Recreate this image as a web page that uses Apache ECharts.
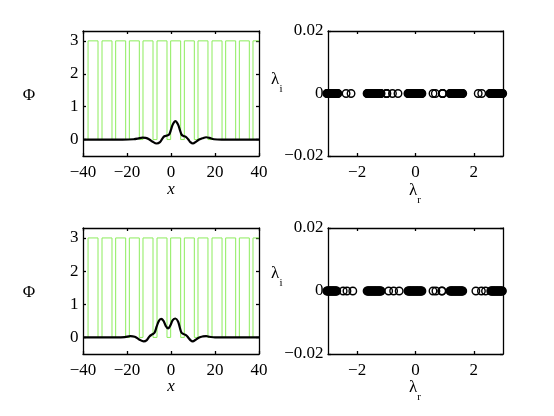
<!DOCTYPE html>
<html>
<head>
<meta charset="utf-8">
<script src="https://cdn.jsdelivr.net/npm/echarts@6/dist/echarts.min.js"></script>
<style>html,body{margin:0;padding:0;background:#fff}#c{width:554px;height:416px}</style>
</head>
<body>
<div id="c"></div>
<script>
// ---- data ----
const xTicksPhi = [-40, -20, 0, 20, 40];
const yTicksPhi = [0, 1, 2, 3];
const xTicksLam = [-2, 0, 2];
const yTicksLam = [-0.02, 0, 0.02];

// square-wave potential (0 / 3): rising and falling edges
const potRises = [-37.7, -31.36, -25.15, -18.94, -12.73, -6.36, -0.15, 6.06, 12.27, 18.64, 24.85, 31.06, 37.27];
const potFalls = [-33.18, -26.82, -20.6, -14.4, -8.18, -1.82, 4.39, 10.6, 16.8, 23.2, 29.4, 35.6];
const potHigh = 3;

// top profile
const phiTopX = [-40, -22, -17, -15, -13, -11.5, -10, -8.5, -6.5, -5, -4, -3, -1.8, -0.8, 0, 0.8, 2, 3.2, 4, 4.8, 5.6, 6.6, 7.8, 8.8, 10, 11.3, 12.8, 14.3, 16, 17.5, 19.5, 23, 40];
const phiTopY = [0, 0, 0.01, 0.03, 0.06, 0.05, 0.01, -0.06, -0.12, -0.08, 0.02, 0.1, 0.12, 0.16, 0.3, 0.46, 0.56, 0.46, 0.3, 0.15, 0.11, 0.09, 0.01, -0.08, -0.12, -0.07, 0.0, 0.04, 0.07, 0.05, 0.01, 0, 0];

// bottom profile
const phiBotX = [-40, -25, -21, -18.5, -16.5, -14.5, -12.4, -11, -9.8, -8.6, -7.5, -6.5, -5.5, -4.5, -3.4, -2.4, -1.3, -0.3, 0.8, 2, 3.2, 4, 4.8, 5.8, 6.8, 7.8, 8.8, 9.9, 11.2, 12.8, 14.5, 16, 17.5, 20, 40];
const phiBotY = [0, 0, 0.01, 0.04, 0.02, -0.06, -0.12, -0.08, 0.03, 0.09, 0.14, 0.33, 0.5, 0.56, 0.5, 0.35, 0.27, 0.36, 0.52, 0.57, 0.48, 0.3, 0.14, 0.1, 0.07, 0.0, -0.08, -0.12, -0.07, 0.0, 0.03, 0.04, 0.02, 0, 0];

// eigenvalues (real parts); imaginary parts are all 0
const lamTopR = [
  -3.04, -3.02, -3.0, -2.98, -2.96, -2.94, -2.92, -2.9, -2.88, -2.86, -2.84, -2.82, -2.8, -2.78, -2.76, -2.74, -2.72, -2.7, -2.68, -2.66,
  -2.38, -2.21,
  -1.66, -1.64, -1.62, -1.6, -1.58, -1.56, -1.54, -1.52, -1.5, -1.48, -1.46, -1.44, -1.42, -1.4, -1.38, -1.36, -1.34, -1.32, -1.3, -1.28, -1.26, -1.24, -1.22, -1.2, -1.18,
  -1.0, -0.99, -0.98, -0.79, -0.6,
  -0.26, -0.24, -0.22, -0.2, -0.18, -0.16, -0.14, -0.12, -0.1, -0.08, -0.06, -0.04, -0.02, 0, 0.02, 0.04, 0.06, 0.08, 0.1, 0.12, 0.14, 0.16, 0.18, 0.2, 0.22,
  0.6, 0.68, 0.92, 0.93, 0.94,
  1.18, 1.2, 1.22, 1.24, 1.26, 1.28, 1.3, 1.32, 1.34, 1.36, 1.38, 1.4, 1.42, 1.44, 1.46, 1.48, 1.5, 1.52, 1.54, 1.56, 1.58, 1.6, 1.62,
  2.15, 2.27,
  2.55, 2.57, 2.59, 2.61, 2.63, 2.65, 2.67, 2.69, 2.71, 2.73, 2.75, 2.77, 2.79, 2.81, 2.83, 2.85, 2.87, 2.89, 2.91, 2.93, 2.95, 2.97, 2.99];
const lamBotR = [
  -3.04, -3.02, -3.0, -2.98, -2.96, -2.94, -2.92, -2.9, -2.88, -2.86, -2.84, -2.82, -2.8, -2.78, -2.76, -2.74, -2.72, -2.7,
  -2.48, -2.35, -2.15,
  -1.66, -1.64, -1.62, -1.6, -1.58, -1.56, -1.54, -1.52, -1.5, -1.48, -1.46, -1.44, -1.42, -1.4, -1.38, -1.36, -1.34, -1.32, -1.3, -1.28, -1.26, -1.24, -1.22, -1.2, -1.18,
  -0.92, -0.75, -0.56,
  -0.26, -0.24, -0.22, -0.2, -0.18, -0.16, -0.14, -0.12, -0.1, -0.08, -0.06, -0.04, -0.02, 0, 0.02, 0.04, 0.06, 0.08, 0.1, 0.12, 0.14, 0.16, 0.18, 0.2, 0.22,
  0.6, 0.7, 0.9, 0.91,
  1.18, 1.2, 1.22, 1.24, 1.26, 1.28, 1.3, 1.32, 1.34, 1.36, 1.38, 1.4, 1.42, 1.44, 1.46, 1.48, 1.5, 1.52, 1.54, 1.56, 1.58, 1.6, 1.62,
  2.07, 2.26, 2.4,
  2.58, 2.6, 2.62, 2.64, 2.66, 2.68, 2.7, 2.72, 2.74, 2.76, 2.78, 2.8, 2.82, 2.84, 2.86, 2.88, 2.9, 2.92, 2.94, 2.96, 2.98];

// ---- build ----
const FONT = '"Liberation Serif", "Times New Roman", serif';
const FS = 17;
const minus = v => String(+(+v).toFixed(6)).replace('-', '\u2212');

function potData() {
  const pts = [[-40, 0]];
  for (let i = 0; i < potRises.length; i++) {
    pts.push([potRises[i], 0], [potRises[i], potHigh]);
    if (i < potFalls.length) pts.push([potFalls[i], potHigh], [potFalls[i], 0]);
    else pts.push([40, potHigh]);
  }
  return pts;
}
const zip = (a, b) => a.map((v, i) => [v, b[i]]);

const grids = [
  {left: 83, top: 31, width: 176, height: 125},
  {left: 328, top: 31, width: 175, height: 125},
  {left: 83, top: 228, width: 176, height: 126},
  {left: 328, top: 228, width: 175, height: 126}
];
const panels = [
  {xr: [-40, 40, 20], yr: [-0.5, 3.3, 0.5], xt: xTicksPhi, yt: yTicksPhi},
  {xr: [-3, 3, 1], yr: [-0.02, 0.02, 0.02], xt: xTicksLam, yt: yTicksLam},
  {xr: [-40, 40, 20], yr: [-0.5, 3.3, 0.5], xt: xTicksPhi, yt: yTicksPhi},
  {xr: [-3, 3, 1], yr: [-0.02, 0.02, 0.02], xt: xTicksLam, yt: yTicksLam}
];
const xAxes = [], yAxes = [];
function ls() { return {color: '#000', width: 1.3}; }
panels.forEach((p, gi) => {
  const base = () => ({gridIndex: gi, type: 'value', splitLine: {show: false},
    axisLine: {show: true, onZero: false, lineStyle: ls()}, axisLabel: {show: false}});
  ['bottom', 'top'].forEach(pos => xAxes.push(Object.assign(base(), {position: pos, min: p.xr[0], max: p.xr[1], interval: p.xr[2],
    axisTick: {inside: true, length: 3, lineStyle: ls(), customValues: p.xt}})));
  ['left', 'right'].forEach(pos => yAxes.push(Object.assign(base(), {position: pos, min: p.yr[0], max: p.yr[1], interval: p.yr[2],
    axisTick: {inside: true, length: 3, lineStyle: ls(), customValues: p.yt}})));
});

const series = [];
[0, 2].forEach((g, k) => {
  series.push({type: 'line', xAxisIndex: g * 2, yAxisIndex: g * 2, data: potData(),
    showSymbol: false, symbol: 'none', lineStyle: {color: '#8cec5c', width: 1}, z: 2, silent: true});
  series.push({type: 'line', xAxisIndex: g * 2, yAxisIndex: g * 2,
    data: k === 0 ? zip(phiTopX, phiTopY) : zip(phiBotX, phiBotY),
    smooth: 0.35, showSymbol: false, symbol: 'none', lineStyle: {color: '#000', width: 2.2}, z: 3, silent: true});
});
[1, 3].forEach((g, k) => {
  const src = k === 0 ? lamTopR : lamBotR;
  series.push({type: 'scatter', xAxisIndex: g * 2, yAxisIndex: g * 2,
    data: src.map(v => [v, 0]), symbol: 'circle', symbolSize: 7.5, clip: false,
    itemStyle: {color: 'rgba(0,0,0,0)', borderColor: '#000', borderWidth: 1.4, opacity: 1}, silent: true});
});

const txt = (x, y, text, size, italic, align, valign) => ({type: 'text', x, y, silent: true, style: {text, fontFamily: FONT, fontSize: size || FS, fontStyle: italic ? 'italic' : 'normal', fill: '#000', align: align || 'center', verticalAlign: valign || 'middle'}});

const chart = echarts.init(document.getElementById('c'));
chart.setOption({animation: false, grid: grids, xAxis: xAxes, yAxis: yAxes, series});

// tick labels placed through the axes' own scales
const graphic = [];
panels.forEach((p, gi) => {
  const xi = gi * 2, yi = gi * 2;
  const yBottom = chart.convertToPixel({yAxisIndex: yi}, p.yr[0]);
  const xLeft = chart.convertToPixel({xAxisIndex: xi}, p.xr[0]);
  p.xt.forEach(v => graphic.push(txt(chart.convertToPixel({xAxisIndex: xi}, v), yBottom + 16.5, minus(v))));
  p.yt.forEach(v => graphic.push(txt(xLeft - 4.5, chart.convertToPixel({yAxisIndex: yi}, v), minus(v), FS, false, 'right')));
});
graphic.push(
  txt(29, 96, '\u03A6'), txt(29, 293, '\u03A6'),
  txt(171, 190, 'x', FS, true), txt(171, 387, 'x', FS, true),
  txt(275, 80, '\u03BB'), txt(281, 89, 'i', 11),
  txt(275, 274, '\u03BB'), txt(281, 283, 'i', 11),
  txt(413, 191, '\u03BB'), txt(419, 200, 'r', 11),
  txt(413, 388, '\u03BB'), txt(419, 397, 'r', 11)
);
chart.setOption({graphic});
</script>
</body>
</html>
